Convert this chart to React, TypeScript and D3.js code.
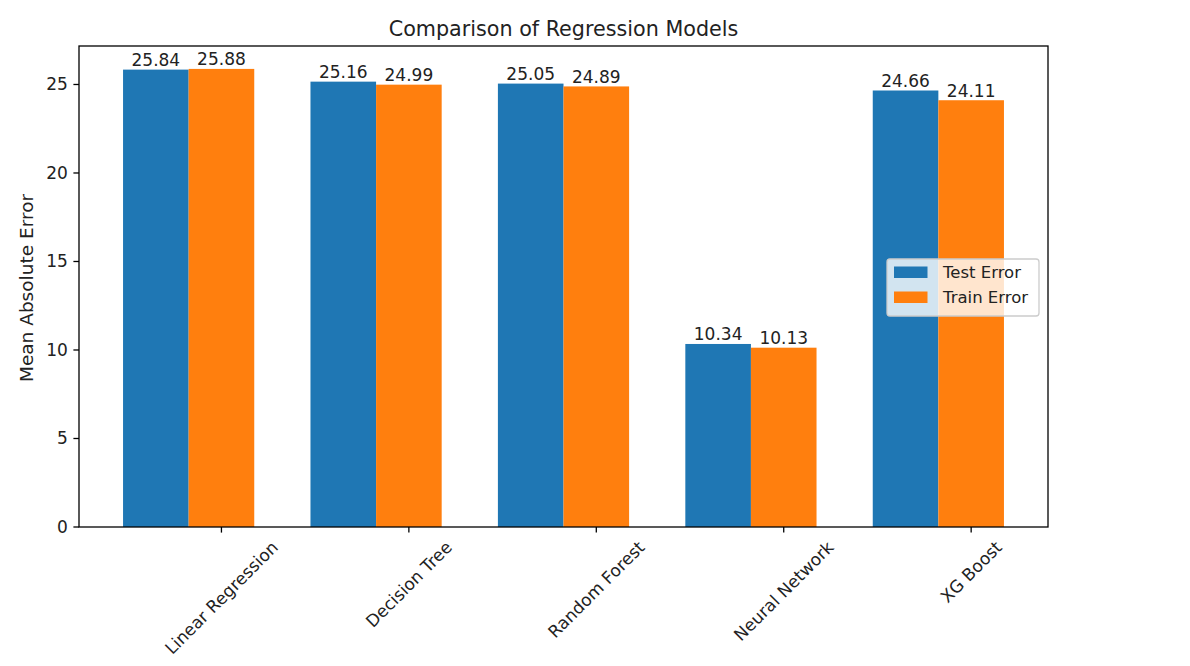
import React, { useMemo } from "react";
import * as d3 from "d3";

const categories = ["Linear Regression", "Decision Tree", "Random Forest", "Neural Network", "XG Boost"];
const testError = [25.84, 25.16, 25.05, 10.34, 24.66];
const trainError = [25.88, 24.99, 24.89, 10.13, 24.11];
const yTicks = [0, 5, 10, 15, 20, 25];
const seriesNames = ["Test Error", "Train Error"];
const colors = ["#1f77b4", "#ff7f0e"];

const W = 1190, H = 666;
const L = 79, R = 1048, T = 46, B = 527;
const FONT = "DejaVu Sans, sans-serif";
const FS = 17;
const BW = 0.35;

function measure(t: string, size: number) {
  if (typeof document === "undefined") return t.length * size * 0.6;
  const c = document.createElement("canvas").getContext("2d")!;
  c.font = `${size}px "DejaVu Sans"`;
  return c.measureText(t).width;
}

export default function App() {
  const n = categories.length;
  const x = d3.scaleLinear().domain([-0.175 - 0.235, n - 1 + BW + 0.175 + 0.235]).range([L, R]);
  const ymax = d3.max([...testError, ...trainError])! * 1.05;
  const y = d3.scaleLinear().domain([0, ymax]).range([B, T]);
  const widths = useMemo(() => categories.map((c) => measure(c, FS)), []);
  const series = [testError, trainError];
  const tickLen = 5.6, pad = 5.6;

  return (
    <svg width={W} height={H} style={{ display: "block", position: "absolute", left: 0, top: 0 }} fontFamily={FONT}>
      <rect width={W} height={H} fill="#fff" />
      <text x={(L + R) / 2} y={36} textAnchor="middle" fontSize={20.7} fill="#222">Comparison of Regression Models</text>
      {series.map((vals, s) =>
        vals.map((v, i) => {
          const xc = i + s * BW;
          const x0 = x(xc - BW / 2), x1 = x(xc + BW / 2);
          return (
            <g key={`${s}-${i}`}>
              <rect x={x0} y={y(v)} width={x1 - x0} height={B - y(v)} fill={colors[s]} />
              <text x={(x0 + x1) / 2} y={y(v) - 3.5} textAnchor="middle" fontSize={FS} fill="#222">{v.toFixed(2)}</text>
            </g>
          );
        })
      )}
      <rect x={L} y={T} width={R - L} height={B - T} fill="none" stroke="#000" strokeWidth={1.3} />
      {yTicks.map((t) => (
        <g key={t}>
          <line x1={L - tickLen} x2={L} y1={y(t)} y2={y(t)} stroke="#000" strokeWidth={1.3} />
          <text x={L - tickLen - pad} y={y(t)} dy="0.35em" textAnchor="end" fontSize={FS} fill="#222">{t}</text>
        </g>
      ))}
      {categories.map((c, i) => {
        const tx = x(i + BW);
        const w = widths[i];
        const h = FS * 1.17;
        const cy = B + tickLen + pad + (w + h) * Math.SQRT1_2 / 2 - 1;
        return (
          <g key={c}>
            <line x1={tx} x2={tx} y1={B} y2={B + tickLen} stroke="#000" strokeWidth={1.3} />
            <text transform={`translate(${tx},${cy}) rotate(-45)`} textAnchor="middle" dy="0.35em" fontSize={FS} fill="#222">{c}</text>
          </g>
        );
      })}
      <text transform={`translate(27,${(T + B) / 2 + 1.5}) rotate(-90)`} textAnchor="middle" dy="0.35em" fontSize={18.5} fill="#222">Mean Absolute Error</text>
      <g>
        <rect x={887} y={259} width={152} height={57} rx={3} fill="#fff" fillOpacity={0.8} stroke="#ccc" strokeWidth={1.3} />
        {seriesNames.map((nm, k) => (
          <g key={nm}>
            <rect x={894} y={266.5 + k * 25} width={33.5} height={11.5} fill={colors[k]} />
            <text x={943} y={272 + k * 25} dy="0.35em" fontSize={16.5} fill="#222">{nm}</text>
          </g>
        ))}
      </g>
    </svg>
  );
}
